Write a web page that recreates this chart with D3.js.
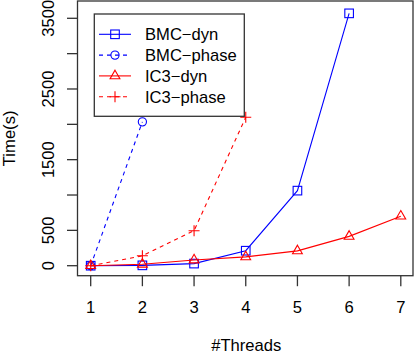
<!DOCTYPE html>
<html>
<head>
<meta charset="utf-8">
<script src="https://d3js.org/d3.v7.min.js"></script>
<style>
  body { margin: 0; background: #fff; }
  svg { display: block; font-family: "Liberation Sans", Arial, sans-serif; }
</style>
</head>
<body>
<svg id="chart" width="415" height="354"></svg>
<script>
// data
var threads = [1, 2, 3, 4, 5, 6, 7];
var bmcDyn = [0, 5, 30, 212, 1062, 3570];
var bmcPhase = [0, 2035];
var ic3Dyn = [0, 20, 80, 125, 210, 415, 700];
var ic3Phase = [0, 140, 495, 2100];
var yTicks = [0, 500, 1000, 1500, 2000, 2500, 3000, 3500];
var yLabels = [0, 500, 1500, 2500, 3500];

var series = [
  { name: "BMC\u2212dyn", values: bmcDyn, color: "#0000ff", dash: null, pch: "square" },
  { name: "BMC\u2212phase", values: bmcPhase, color: "#0000ff", dash: "4,4", pch: "circle" },
  { name: "IC3\u2212dyn", values: ic3Dyn, color: "#ff0000", dash: null, pch: "triangle" },
  { name: "IC3\u2212phase", values: ic3Phase, color: "#ff0000", dash: "4,4", pch: "plus" }
];

var fontSize = 16.6;
var svg = d3.select("#chart");

// plot region (R base graphics layout)
var box = { left: 77.5, right: 413, top: 1, bottom: 275.7 };

var x = d3.scaleLinear().domain([1, 7]).range([90.7, 400.8]);
var y = d3.scaleLinear().domain([0, 3500]).range([265.7, 18.3]);

// draw a point symbol like R's pch
function drawSymbol(g, kind, cx, cy, color) {
  if (kind == "square") {
    g.append("rect").attr("x", cx - 4.3).attr("y", cy - 4.3)
      .attr("width", 8.6).attr("height", 8.6)
      .attr("fill", "none").attr("stroke", color).attr("stroke-width", 1.1);
  } else if (kind == "circle") {
    g.append("circle").attr("cx", cx).attr("cy", cy).attr("r", 4.1)
      .attr("fill", "none").attr("stroke", color).attr("stroke-width", 1.1);
  } else if (kind == "triangle") {
    var r = 5.7, h = r / 2, w = 4.9;
    g.append("path")
      .attr("d", "M" + cx + "," + (cy - r) + "L" + (cx + w) + "," + (cy + h) + "L" + (cx - w) + "," + (cy + h) + "Z")
      .attr("fill", "none").attr("stroke", color).attr("stroke-width", 1.1);
  } else if (kind == "plus") {
    var s = 5.5;
    g.append("path")
      .attr("d", "M" + (cx - s) + "," + cy + "H" + (cx + s) + "M" + cx + "," + (cy - s) + "V" + (cy + s))
      .attr("fill", "none").attr("stroke", color).attr("stroke-width", 1.1);
  }
}

// lines and points
var line = d3.line()
  .x(function(d, i) { return x(threads[i]); })
  .y(function(d) { return y(d); });

series.forEach(function(s) {
  var g = svg.append("g");
  g.append("path")
    .datum(s.values)
    .attr("d", line)
    .attr("fill", "none")
    .attr("stroke", s.color)
    .attr("stroke-width", 1.1)
    .attr("stroke-dasharray", s.dash);
  s.values.forEach(function(v, i) {
    drawSymbol(g, s.pch, x(threads[i]), y(v), s.color);
  });
});

// box
svg.append("rect")
  .attr("x", box.left).attr("y", box.top)
  .attr("width", box.right - box.left).attr("height", box.bottom - box.top)
  .attr("fill", "none").attr("stroke", "#333").attr("stroke-width", 1.3);

// x axis
var xAxis = svg.append("g");
xAxis.selectAll("line")
  .data(threads)
  .enter()
  .append("line")
  .attr("x1", function(d) { return x(d); })
  .attr("x2", function(d) { return x(d); })
  .attr("y1", box.bottom).attr("y2", box.bottom + 10.5)
  .attr("stroke", "#333").attr("stroke-width", 1.3);
xAxis.selectAll("text")
  .data(threads)
  .enter()
  .append("text")
  .attr("x", function(d) { return x(d); })
  .attr("y", 312.5)
  .attr("text-anchor", "middle")
  .attr("font-size", fontSize)
  .text(function(d) { return d; });

// y axis
var yAxis = svg.append("g");
yAxis.selectAll("line")
  .data(yTicks)
  .enter()
  .append("line")
  .attr("x1", box.left - 10.5).attr("x2", box.left)
  .attr("y1", function(d) { return y(d); })
  .attr("y2", function(d) { return y(d); })
  .attr("stroke", "#333").attr("stroke-width", 1.3);
yAxis.selectAll("text")
  .data(yLabels)
  .enter()
  .append("text")
  .attr("transform", function(d) { return "translate(53.5," + y(d) + ") rotate(-90)"; })
  .attr("text-anchor", "middle")
  .attr("font-size", fontSize)
  .text(function(d) { return d; });

// axis titles
svg.append("text")
  .attr("x", (box.left + box.right) / 2 + 1)
  .attr("y", 350.5)
  .attr("text-anchor", "middle")
  .attr("font-size", fontSize)
  .text("#Threads");
svg.append("text")
  .attr("transform", "translate(14.5," + ((box.top + box.bottom) / 2) + ") rotate(-90)")
  .attr("text-anchor", "middle")
  .attr("font-size", fontSize)
  .text("Time(s)");

// legend
var legend = svg.append("g");
legend.append("rect")
  .attr("x", 94.3).attr("y", 14)
  .attr("width", 150).attr("height", 102.3)
  .attr("fill", "#fff").attr("stroke", "#333").attr("stroke-width", 1.3);

series.forEach(function(s, i) {
  var cy = 34.3 + i * 20.8;
  legend.append("line")
    .attr("x1", 99).attr("x2", 131)
    .attr("y1", cy).attr("y2", cy)
    .attr("stroke", s.color).attr("stroke-width", 1.1)
    .attr("stroke-dasharray", s.dash);
  drawSymbol(legend, s.pch, 115, cy, s.color);
  legend.append("text")
    .attr("x", 145)
    .attr("y", cy + 6)
    .attr("font-size", fontSize)
    .text(s.name);
});
</script>
</body>
</html>
